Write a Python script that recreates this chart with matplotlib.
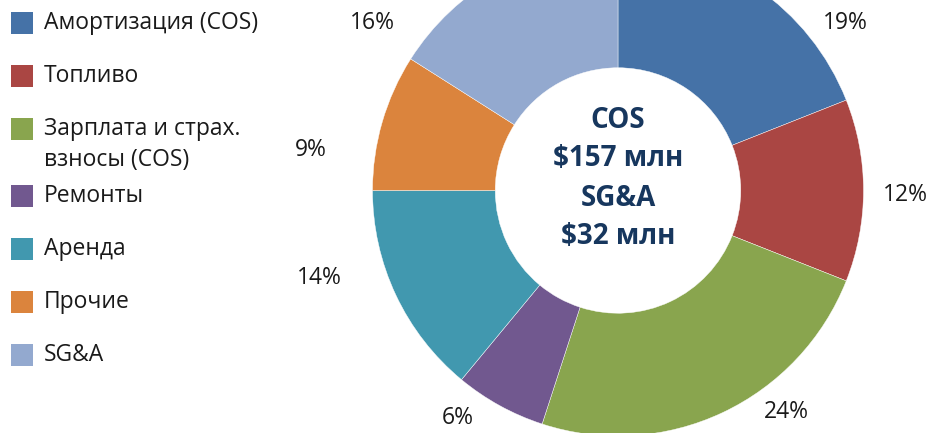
import matplotlib.pyplot as plt
from matplotlib.patches import Rectangle

plt.rcParams['font.family'] = ['Open Sans', 'DejaVu Sans']

# данные
categories = ['Амортизация (COS)', 'Топливо', 'Зарплата и страх.\nвзносы (COS)',
              'Ремонты', 'Аренда', 'Прочие', 'SG&A']
shares = [19, 12, 24, 6, 14, 9, 16]
colors = ['#4572A7', '#AA4643', '#89A54E', '#71588F', '#4198AF', '#DB843D', '#93A9CF']
center_lines = ['COS', '$157 млн', 'SG&A', '$32 млн']

# положение подписей процентов (пиксели, от левого верхнего угла)
label_pos = [(845, 23), (905, 195), (786, 412), (458, 418), (319, 278), (311, 150), (372, 23)]

W, H = 932, 433
fig = plt.figure(figsize=(W / 100, H / 100), dpi=100)
ax = fig.add_axes([0, 0, 1, 1])

cx, cy, r = 618, H - 190.5, 245.5
ax.pie(shares, colors=colors, startangle=90, counterclock=False, center=(cx, cy),
       radius=r, wedgeprops=dict(width=r * 0.5, edgecolor='white', linewidth=0.3),
       frame=True)
ax.set_xlim(0, W)
ax.set_ylim(0, H)
ax.set_aspect('equal')
ax.axis('off')

for s, (x, y) in zip(shares, label_pos):
    ax.text(x, H - y, f'{s}%', ha='center', va='center', fontsize=16.5, color='#1a1a1a')

for i, line in enumerate(center_lines):
    ax.text(cx, H - 120 - i * 39, line, ha='center', va='center', fontsize=20,
            fontweight='bold', color='#17375E')

# легенда
y = 23
for cat, col in zip(categories, colors):
    ax.add_patch(Rectangle((11, H - y - 11), 22, 22, facecolor=col, edgecolor='none'))
    lines = cat.split('\n')
    for j, ln in enumerate(lines):
        ax.text(44, H - y - j * 31, ln, ha='left', va='center', fontsize=16.5, color='#1a1a1a')
    y += 53 + (14 if len(lines) > 1 else 0)

fig.savefig('out.png', dpi=100)
